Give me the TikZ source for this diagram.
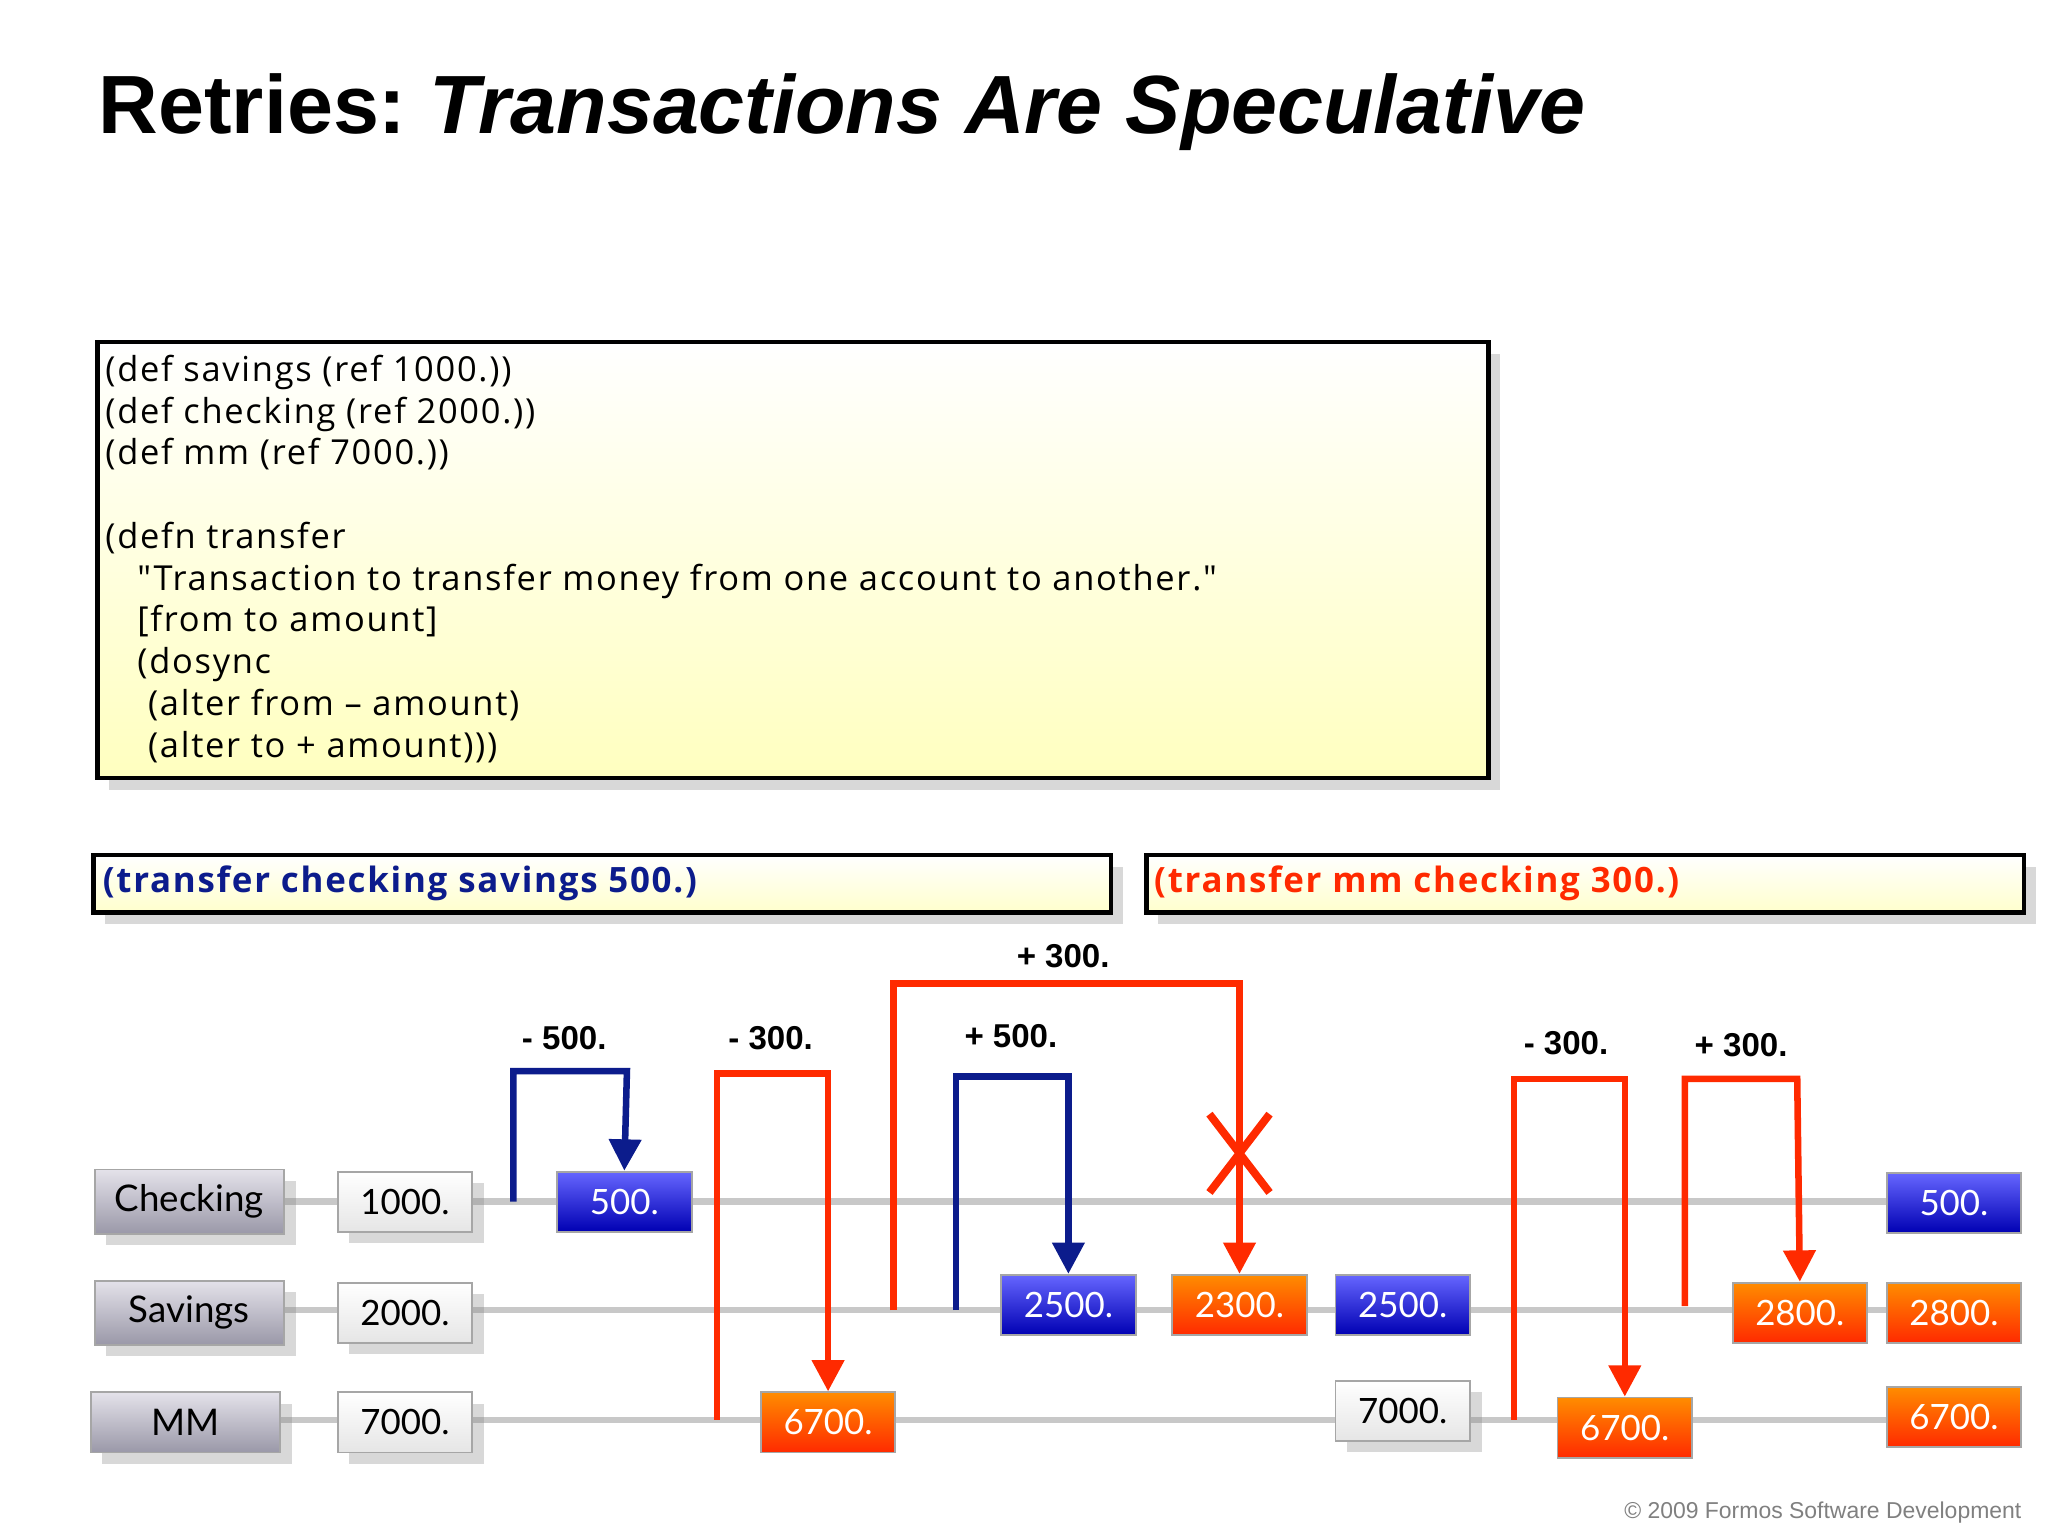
\documentclass[tikz,border=0pt]{standalone}
\usepackage{fontspec}
\setmainfont{Lato}
\newfontfamily\titlefont{Liberation Sans}
\newfontfamily\codefont[LetterSpace=5]{Open Sans}
\usetikzlibrary{arrows.meta,shadows}
\definecolor{rl}{HTML}{FF2A00}
\definecolor{bl}{HTML}{0C1C8C}
\definecolor{gline}{HTML}{C8C8C8}
\definecolor{labtop}{HTML}{E4E2EA}
\definecolor{labbot}{HTML}{9A98A8}
\tikzset{
 lab/.style={draw=gray!70,top color=labtop,bottom color=labbot,minimum width=14.5mm,minimum height=4.6mm,font=\fontsize{8pt}{9pt}\selectfont,drop shadow={opacity=0.3}},
 wv/.style={draw=gray!70,top color=white,bottom color=gray!20,minimum width=10.3mm,minimum height=4.6mm,font=\fontsize{7.6pt}{9pt}\selectfont,drop shadow={opacity=0.3}},
 bv/.style={draw=gray!70,top color=HTML5A,bottom color=blue!70!black,text=white,minimum width=10.3mm,minimum height=4.6mm,font=\fontsize{7.6pt}{9pt}\selectfont},
 ov/.style={draw=gray!70,top color=orange!90!yellow,bottom color=rl,text=white,minimum width=10.3mm,minimum height=4.6mm,font=\fontsize{7.6pt}{9pt}\selectfont},
 rarr/.style={rl,line width=0.5mm,-{Triangle[width=2.4mm,length=2.4mm]}},
 barr/.style={bl,line width=0.5mm,-{Triangle[width=2.4mm,length=2.4mm]}},
 amt/.style={font=\titlefont\bfseries\fontsize{7.2pt}{8pt}\selectfont},
}
\colorlet{HTML5A}{blue!60!white}
\begin{document}
\begin{tikzpicture}[x=0.1mm,y=-0.1mm]
\useasboundingbox[fill=white] (0,0) rectangle (1568,1176);
\node[anchor=base west,inner sep=0,font=\titlefont\bfseries\fontsize{18pt}{20pt}\selectfont] (title) at (75,102) {Retries:~\textit{Transactions Are Speculative}};
% code box
\node[draw=black,line width=0.35mm,top color=white,bottom color=yellow!25,minimum width=106.5mm,minimum height=33.4mm,anchor=north west,drop shadow={opacity=0.3},inner sep=0] (code) at (73,260) {};
\node[anchor=north west,align=left,inner sep=0,font=\codefont\fontsize{7.5pt}{9.1pt}\selectfont] (codetext) at (80,271) {(def savings (ref 1000.))\\(def checking (ref 2000.))\\(def mm (ref 7000.))\\[9.1pt](defn transfer\\\ \ \ \char"22Transaction to transfer money from one account to another.\char"22\\\ \ \ [from to amount]\\\ \ \ (dosync\\\ \ \ \ (alter from – amount)\\\ \ \ \ (alter to + amount)))};
% transaction boxes
\node[draw=black,line width=0.35mm,top color=white,bottom color=yellow!20,minimum width=77.9mm,minimum height=4.4mm,anchor=north west,drop shadow={opacity=0.3},inner sep=0] (tb) at (70,653) {};
\node[anchor=west,text=bl,font=\codefont\bfseries\fontsize{7.6pt}{9pt}\selectfont,inner sep=0] at (78,676) {(transfer checking savings 500.)};
\node[draw=black,line width=0.35mm,top color=white,bottom color=yellow!20,minimum width=67.2mm,minimum height=4.4mm,anchor=north west,drop shadow={opacity=0.3},inner sep=0] (tr) at (876,653) {};
\node[anchor=west,text=rl,font=\codefont\bfseries\fontsize{7.6pt}{9pt}\selectfont,inner sep=0] at (883,676) {(transfer mm checking 300.)};
% lines
\draw[gline,line width=0.5mm] (218,920) -- (1548,920);
\draw[gline,line width=0.5mm] (218,1003) -- (1548,1003);
\draw[gline,line width=0.5mm] (215,1087) -- (1548,1087);
% labels
\node[lab] (chk) at (145,920) {Checking};
\node[lab] (sav) at (145,1005) {Savings};
\node[lab] (mm) at (142,1089) {MM};
\node[wv] (c0) at (310,920) {1000.};
\node[wv] (s0) at (310,1005) {2000.};
\node[wv] (m0) at (310,1089) {7000.};
\node[bv] (c1) at (478,920) {500.};
\node[ov] (m1) at (634,1089) {6700.};
\node[bv] (s1) at (818,999) {2500.};
\node[ov] (s2) at (949,999) {2300.};
\node[bv] (s3) at (1074,999) {2500.};
\node[wv] (m2) at (1074,1080) {7000.};
\node[ov] (m3) at (1244,1093) {6700.};
\node[ov] (s4) at (1378,1005) {2800.};
\node[bv] (c2) at (1496,921) {500.};
\node[ov] (s5) at (1496,1005) {2800.};
\node[ov] (m4) at (1496,1085) {6700.};
% arrows
\coordinate (a1) at (393,920); \coordinate (a2) at (549,1087);
\coordinate (a3) at (684,1003); \coordinate (a4) at (732,1003);
\coordinate (a5) at (1159,1087); \coordinate (a6) at (1290,1000);
\draw[barr] (a1) |- (480,820) -- (c1.north);
\draw[rarr] (a2) |- (634,822) -- (m1.north);
\draw[rarr] (a3) |- (949,753) -- (s2.north);
\draw[barr] (a4) |- (818,824) -- (s1.north);
\draw[rarr] (a5) |- (1244,826) -- (m3.north);
\draw[rarr] (a6) |- (1376,826) -- (s4.north);
\draw[rl,line width=0.6mm] (926,853) -- (972,913) (972,853) -- (926,913);
\node[amt] at (432,795) {- 500.};
\node[amt] at (590,795) {- 300.};
\node[amt] at (814,732) {+ 300.};
\node[amt] at (774,793) {+ 500.};
\node[amt] at (1199,799) {- 300.};
\node[amt] at (1333,800) {+ 300.};
\node[anchor=east,text=gray,font=\titlefont\fontsize{5pt}{6pt}\selectfont] (copy) at (1560,1158) {© 2009 Formos Software Development};
\end{tikzpicture}
\end{document}
